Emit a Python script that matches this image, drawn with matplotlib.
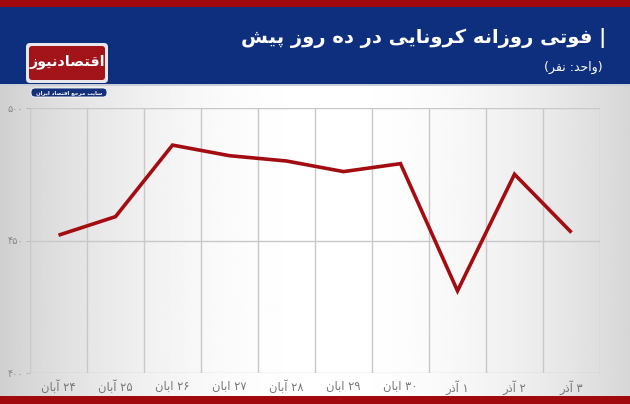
import matplotlib
matplotlib.use("Agg")
import matplotlib.pyplot as plt
import numpy as np
from matplotlib.patches import Rectangle, FancyBboxPatch
from matplotlib import font_manager, ft2font

# ---------------- data ----------------
categories = ["۲۴ آبان", "۲۵ آبان", "۲۶ ابان", "۲۷ ابان", "۲۸ آبان",
              "۲۹ ابان", "۳۰ ابان", "۱ آذر", "۲ آذر", "۳ آذر"]
deaths = [452, 459, 486, 482, 480, 476, 479, 431, 475, 453]
y_ticks = [400, 450, 500]
y_tick_labels = ["۴۰۰", "۴۵۰", "۵۰۰"]
title = "| فوتی روزانه کرونایی در ده روز پیش"
subtitle = "(واحد: نفر)"
logo_text = "اقتصادنیوز"
logo_sub = "سایت مرجع اقتصاد ایران"

# ---------------- simple Persian shaping ----------------
FORMS = {
    'ا': ('\uFE8D', '\uFE8E'), 'آ': ('\uFE81', '\uFE82'),
    'د': ('\uFEA9', '\uFEAA'), 'ذ': ('\uFEAB', '\uFEAC'),
    'ر': ('\uFEAD', '\uFEAE'), 'ز': ('\uFEAF', '\uFEB0'),
    'و': ('\uFEED', '\uFEEE'),
    'ب': ('\uFE8F', '\uFE90', '\uFE91', '\uFE92'),
    'پ': ('\uFB56', '\uFB57', '\uFB58', '\uFB59'),
    'ت': ('\uFE95', '\uFE96', '\uFE97', '\uFE98'),
    'ج': ('\uFE9D', '\uFE9E', '\uFE9F', '\uFEA0'),
    'ح': ('\uFEA1', '\uFEA2', '\uFEA3', '\uFEA4'),
    'س': ('\uFEB1', '\uFEB2', '\uFEB3', '\uFEB4'),
    'ش': ('\uFEB5', '\uFEB6', '\uFEB7', '\uFEB8'),
    'ص': ('\uFEB9', '\uFEBA', '\uFEBB', '\uFEBC'),
    'ع': ('\uFEC9', '\uFECA', '\uFECB', '\uFECC'),
    'ف': ('\uFED1', '\uFED2', '\uFED3', '\uFED4'),
    'ق': ('\uFED5', '\uFED6', '\uFED7', '\uFED8'),
    'ک': ('\uFB8E', '\uFB8F', '\uFB90', '\uFB91'),
    'م': ('\uFEE1', '\uFEE2', '\uFEE3', '\uFEE4'),
    'ن': ('\uFEE5', '\uFEE6', '\uFEE7', '\uFEE8'),
    'ه': ('\uFEE9', '\uFEEA', '\uFEEB', '\uFEEC'),
    'ی': ('\uFBFC', '\uFBFD', '\uFBFE', '\uFBFF'),
}
FALLBACK = {
    'ک': ('\uFED9', '\uFEDA', '\uFEDB', '\uFEDC'),
    'ی': ('\uFEEF', '\uFEF0', '\uFEF3', '\uFEF4'),
}


def _charmap(family, weight="normal"):
    try:
        path = font_manager.findfont(font_manager.FontProperties(family=family, weight=weight))
        return set(ft2font.FT2Font(path).get_charmap().keys())
    except Exception:
        return set()


CMAP = _charmap("DejaVu Sans", "bold") & _charmap("DejaVu Sans")
for k, v in FALLBACK.items():
    if not all(ord(c) in CMAP for c in FORMS[k]):
        FORMS[k] = v

DIGITS = set("۰۱۲۳۴۵۶۷۸۹0123456789")
MIRROR = {'(': ')', ')': '('}


def shape(text):
    out = []
    n = len(text)
    for i, ch in enumerate(text):
        if ch not in FORMS:
            out.append(ch)
            continue
        f = FORMS[ch]
        prev = text[i - 1] if i > 0 else None
        nxt = text[i + 1] if i < n - 1 else None
        cp = prev is not None and prev in FORMS and len(FORMS[prev]) == 4
        cn = len(f) == 4 and nxt is not None and nxt in FORMS
        if cp and cn:
            out.append(f[3])
        elif cp:
            out.append(f[1])
        elif cn:
            out.append(f[2])
        else:
            out.append(f[0])
    s = "".join(out)[::-1]
    res, run = [], []
    for ch in s:
        if ch in DIGITS:
            run.append(ch)
        else:
            if run:
                res.append("".join(run[::-1]))
                run = []
            res.append(MIRROR.get(ch, ch))
    if run:
        res.append("".join(run[::-1]))
    return "".join(res)


plt.rcParams['font.family'] = ['DejaVu Sans']

W, H = 630, 404
fig = plt.figure(figsize=(W / 100, H / 100), dpi=100)

# ---------------- background ----------------
bg = fig.add_axes([0, 0, 1, 1], zorder=-10)
bg.set_xlim(0, W)
bg.set_ylim(H, 0)
bg.axis("off")
xs = np.linspace(0, 1, 256)
prof = 1 - 0.17 * ((xs - 0.52) / 0.5) ** 2
grad = np.tile(prof, (2, 1))
bg.imshow(grad, cmap="gray", vmin=0, vmax=1, extent=[0, W, H, 0], aspect="auto")
bg.add_patch(Rectangle((0, 0), W, 7, color="#a0090e", lw=0))
bg.add_patch(Rectangle((0, 7), W, 77, color="#0d2f7e", lw=0))
bg.add_patch(Rectangle((0, 84), W, 1.5, color="#c9ced8", lw=0))
bg.add_patch(Rectangle((0, 396), W, 8, color="#a0090e", lw=0))

# logo
bg.add_patch(FancyBboxPatch((26, 43), 82, 40, boxstyle="round,pad=0,rounding_size=4",
                            fc="#e8e8ec", ec="none", lw=0))
bg.add_patch(FancyBboxPatch((29, 46), 76, 34, boxstyle="round,pad=0,rounding_size=3",
                            fc="#a3141a", ec="none", lw=0))
bg.text(67, 62, shape(logo_text), color="white", fontsize=10.3, fontweight="bold",
        ha="center", va="center")
bg.add_patch(FancyBboxPatch((31, 88), 76, 9, boxstyle="round,pad=0,rounding_size=4",
                            fc="#14307a", ec="#ffffff", lw=0.6))
bg.text(69, 92.5, shape(logo_sub), color="white", fontsize=3.9, fontweight="bold",
        ha="center", va="center")

# title
fig.text(606 / W, 1 - 38 / H, shape(title), color="white", fontsize=14,
         fontweight="bold", ha="right", va="center")
fig.text(603 / W, 1 - 67 / H, shape(subtitle), color="white", fontsize=9,
         ha="right", va="center")

# ---------------- plot ----------------
ax = fig.add_axes([30 / W, 1 - 373 / H, 570 / W, 265 / H])
ax.set_facecolor("none")
x = np.arange(len(categories))
ax.plot(x, deaths, color="#a30c10", lw=2.6, solid_joinstyle="miter",
        solid_capstyle="butt", zorder=3)
ax.set_xlim(-0.5, len(categories) - 0.5)
ax.set_ylim(400, 500)
ax.set_yticks(y_ticks)
ax.set_yticklabels([shape(t) for t in y_tick_labels])
ax.set_xticks(x)
ax.set_xticklabels([shape(c) for c in categories])
ax.tick_params(axis="x", which="both", length=0, pad=5, labelsize=8.3, colors="#777777")
ax.tick_params(axis="y", length=3, width=0.8, color="#bbbbbb", pad=2,
               labelsize=7, labelcolor="#888888")
ax.grid(False)
for xv in np.arange(-0.5, len(categories), 1):
    ax.axvline(xv, color="#c8c8c8", lw=1, zorder=1)
for yv in y_ticks:
    ax.axhline(yv, color="#c8c8c8", lw=1, zorder=1)
for s in ax.spines.values():
    s.set_visible(False)

fig.savefig("out.png", dpi=100)
